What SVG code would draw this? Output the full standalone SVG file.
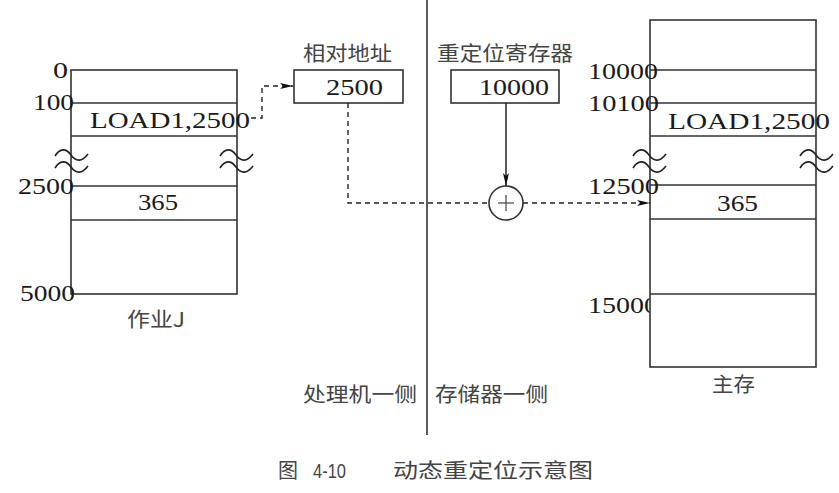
<svg xmlns="http://www.w3.org/2000/svg" width="839" height="493" viewBox="0 0 839 493">
<style>
.box{fill:#fff;stroke:#333;stroke-width:1.6}
.ln{stroke:#333;stroke-width:1.6;fill:none}
.num{font-family:"Liberation Serif","Times New Roman",serif;font-size:24px;fill:#1a1a1a}
.cjk{font-family:"Noto Sans CJK SC","Noto Sans",sans-serif;font-size:20px;fill:#444}
.sq{fill:none;stroke:#222;stroke-width:1.6}
.dash{fill:none;stroke:#222;stroke-width:1.4;stroke-dasharray:5 4}
</style>
<defs>
<marker id="ah" markerWidth="14" markerHeight="8" refX="13" refY="4" orient="auto" markerUnits="userSpaceOnUse">
<path d="M0,1 L13,4 L0,7 L3,4 Z" fill="#111"/>
</marker>
<path id="wave" d="M0,8 c5,-8 11,-8 16,-1 s11,7 17,-1 M0,20 c5,-8 11,-8 16,-1 s11,7 17,-1" class="sq"/>
</defs>
<rect width="839" height="493" fill="#fff"/>

<g id="divider">
<line x1="427" y1="0" x2="427" y2="435" class="ln"/>
</g>

<g id="job">
<rect x="71" y="70" width="166" height="224" class="box"/>
<line x1="71" y1="103" x2="237" y2="103" class="ln"/>
<line x1="71" y1="136" x2="237" y2="136" class="ln"/>
<line x1="71" y1="186" x2="237" y2="186" class="ln"/>
<line x1="71" y1="220" x2="237" y2="220" class="ln"/>
<use href="#wave" x="55" y="148"/>
<use href="#wave" x="220" y="148"/>
<text class="num" x="53" y="78" textLength="15" lengthAdjust="spacingAndGlyphs">0</text>
<text class="num" x="33" y="110" textLength="41" lengthAdjust="spacingAndGlyphs">100</text>
<text class="num" x="90" y="128" textLength="160" lengthAdjust="spacingAndGlyphs">LOAD1,2500</text>
<text class="num" x="18" y="194" textLength="56" lengthAdjust="spacingAndGlyphs">2500</text>
<text class="num" x="138" y="210" textLength="40" lengthAdjust="spacingAndGlyphs">365</text>
<text class="num" x="20" y="301" textLength="55" lengthAdjust="spacingAndGlyphs">5000</text>
<text class="cjk" x="127" y="327" textLength="58" lengthAdjust="spacingAndGlyphs">作业J</text>
</g>

<g id="relative-address">
<rect x="294" y="70" width="109" height="33" class="box"/>
<text class="num" x="326" y="95" textLength="57" lengthAdjust="spacingAndGlyphs">2500</text>
<text class="cjk" x="303" y="61" textLength="89" lengthAdjust="spacingAndGlyphs">相对地址</text>
</g>

<g id="relocation-register">
<rect x="451" y="70" width="108" height="33" class="box"/>
<text class="num" x="479" y="95" textLength="70" lengthAdjust="spacingAndGlyphs">10000</text>
<text class="cjk" x="437" y="61" textLength="136" lengthAdjust="spacingAndGlyphs">重定位寄存器</text>
</g>

<g id="adder">
<circle cx="506" cy="203" r="17" class="box"/>
<line x1="498" y1="203" x2="514" y2="203" stroke="#444" stroke-width="1.2"/>
<line x1="506" y1="195" x2="506" y2="211" stroke="#444" stroke-width="1.2"/>
</g>

<g id="main-memory">
<text class="num" x="588" y="313" textLength="70" lengthAdjust="spacingAndGlyphs">15000</text>
<rect x="650" y="20" width="166" height="347" class="box"/>
<line x1="650" y1="70" x2="816" y2="70" class="ln"/>
<line x1="650" y1="103" x2="816" y2="103" class="ln"/>
<line x1="650" y1="136" x2="816" y2="136" class="ln"/>
<line x1="650" y1="185" x2="816" y2="185" class="ln"/>
<line x1="650" y1="219" x2="816" y2="219" class="ln"/>
<line x1="650" y1="294" x2="816" y2="294" class="ln"/>
<use href="#wave" x="633" y="148"/>
<use href="#wave" x="800" y="148"/>
<text class="num" x="588" y="79" textLength="70" lengthAdjust="spacingAndGlyphs">10000</text>
<text class="num" x="588" y="111" textLength="71" lengthAdjust="spacingAndGlyphs">10100</text>
<text class="num" x="668" y="129" textLength="162" lengthAdjust="spacingAndGlyphs">LOAD1,2500</text>
<text class="num" x="588" y="194" textLength="71" lengthAdjust="spacingAndGlyphs">12500</text>
<text class="num" x="717" y="211" textLength="41" lengthAdjust="spacingAndGlyphs">365</text>
<text class="cjk" x="712" y="392" textLength="43" lengthAdjust="spacingAndGlyphs">主存</text>
</g>

<g id="side-labels">
<text class="cjk" x="303" y="402" textLength="114" lengthAdjust="spacingAndGlyphs">处理机一侧</text>
<text class="cjk" x="435" y="402" textLength="113" lengthAdjust="spacingAndGlyphs">存储器一侧</text>
</g>

<g id="caption">
<text class="cjk" x="278" y="478" textLength="20" lengthAdjust="spacingAndGlyphs">图</text>
<text x="313" y="478" font-family="Liberation Sans, Arial, sans-serif" font-size="21" fill="#444" textLength="33" lengthAdjust="spacingAndGlyphs">4-10</text>
<text class="cjk" x="393" y="478" textLength="200" lengthAdjust="spacingAndGlyphs">动态重定位示意图</text>
</g>

<g id="connectors">
<path d="M251,118 H262 V86 H293" class="dash" marker-end="url(#ah)"/>
<path d="M348,103 V203 H489" class="dash"/>
<path d="M523,203 H650" class="dash" marker-end="url(#ah)"/>
<line x1="506" y1="103" x2="506" y2="186" stroke="#222" stroke-width="1.5" marker-end="url(#ah)"/>
</g>
</svg>
